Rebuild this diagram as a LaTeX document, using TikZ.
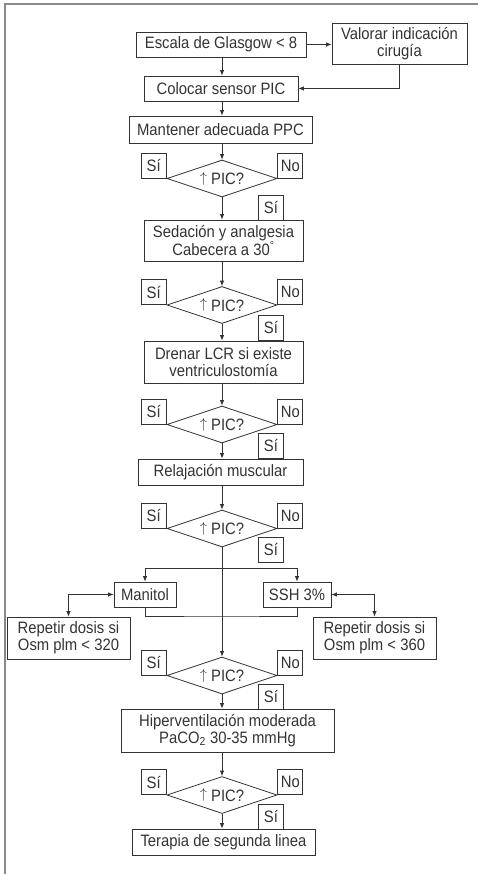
\documentclass[tikz,border=0pt]{standalone}
\usepackage{fontspec}
\setmainfont{Liberation Sans}[FakeStretch=0.9]
\usetikzlibrary{shapes.geometric,arrows.meta}
\definecolor{ink}{HTML}{333333}
\definecolor{frame}{HTML}{8A8A8A}
% thin rising arrow used in the decision labels
\newcommand{\picup}{\raisebox{2.6pt}{\fontsize{13.5}{13.5}\selectfont$\uparrow$}}

\begin{document}
\begin{tikzpicture}[x=1pt,y=-1pt,
  font=\fontsize{16.5}{16.8}\selectfont,
  box/.style={draw=ink, line width=0.8pt, rectangle, inner sep=0pt, align=center, text=ink},
  tag/.style={box, minimum width=25pt, minimum height=25pt},
  dia/.style={draw=ink, line width=0.8pt, shape=diamond, aspect=3, inner sep=0pt,
              minimum width=110pt, minimum height=37pt, text=ink},
  link/.style={draw=ink, line width=0.8pt},
  arr/.style={link, -{Latex[length=5.5pt,width=4.5pt]}},
  dbl/.style={link, {Latex[length=5.5pt,width=4.5pt]}-{Latex[length=5.5pt,width=4.5pt]}}]

\useasboundingbox (0,0) rectangle (478,874);
% figure frame (top and left rules)
\draw[frame, line width=1.5pt] (5,874) -- (5,4) -- (478,4);

% main axis of the flow
\coordinate (ax) at (222,0);

% boxes
\node[box, minimum width=170pt, minimum height=25pt] (glas) at (221,44.5) {Escala de Glasgow < 8};
\node[box, minimum width=135pt, minimum height=41pt] (val) at (399.5,43.5) {Valorar indicación\\cirugía};
\node[box, minimum width=154pt, minimum height=25pt] (col) at (221,88.5) {Colocar sensor PIC};
\node[box, minimum width=183pt, minimum height=27pt] (ppc) at (220.5,129.5) {Mantener adecuada PPC};
\node[dia] (d1) at (222,178.5) {\picup{} PIC?};
\node[box, minimum width=159pt, minimum height=41pt] (sed) at (223.5,240.5) {Sedación y analgesia\\Cabecera a 30\textsuperscript{°}};
\node[dia] (d2) at (222,305) {\picup{} PIC?};
\node[box, minimum width=159pt, minimum height=42pt] (lcr) at (223.5,362) {Drenar LCR si existe\\ventriculostomía};
\node[dia] (d3) at (222,424.5) {\picup{} PIC?};
\node[box, minimum width=165pt, minimum height=26pt] (rel) at (220.5,472) {Relajación muscular};
\node[dia] (d4) at (222,528.5) {\picup{} PIC?};
\node[box, minimum width=62pt, minimum height=25pt] (man) at (145,594.5) {Manitol};
\node[box, minimum width=68pt, minimum height=25pt] (ssh) at (297,594.5) {SSH 3\%};
\node[box, minimum width=123pt, minimum height=42pt] (repl) at (68.5,638) {Repetir dosis si\\Osm plm < 320};
\node[box, minimum width=123pt, minimum height=42pt] (repr) at (374.5,638) {Repetir dosis si\\Osm plm < 360};
\node[dia] (d5) at (222,675.5) {\picup{} PIC?};
\node[box, minimum width=213pt, minimum height=43pt] (hip) at (227.5,730.5) {Hiperventilación moderada\\PaCO\textsubscript{2} 30-35 mmHg};
\node[dia] (d6) at (222,795) {\picup{} PIC?};
\node[box, minimum width=183pt, minimum height=26pt] (ter) at (223.5,842) {Terapia de segunda linea};

% answer tags beside each decision
\foreach \d/\y in {d1/207.5, d2/327.5, d3/445.5, d4/549.5, d5/696.5, d6/816.5} {
  \node[tag, anchor=south east] (\d sl) at (\d.west) {Sí};
  \node[tag, anchor=south west] (\d no) at (\d.east) {No};
  \node[tag] (\d sb) at (271,\y) {Sí};
}

% connectors
\draw[arr] (glas.south -| ax) -- (col.north -| ax);
\draw[arr] (glas.east) -- (glas.east -| val.west);
\draw[arr] (val.south) |- (col.east);
\draw[arr] (col.south -| ax) -- (ppc.north -| ax);
\draw[arr] (ppc.south -| ax) -- (d1.north);
\draw[arr] (d1.south) -- (sed.north -| ax);
\draw[arr] (sed.south -| ax) -- (d2.north);
\draw[arr] (d2.south) -- (lcr.north -| ax);
\draw[arr] (lcr.south -| ax) -- (d3.north);
\draw[arr] (d3.south) -- (rel.north -| ax);
\draw[arr] (rel.south -| ax) -- (d4.north);
\draw[arr] (d4.south) -- (d5.north);

% osmotic therapy branch
\coordinate (br) at (222,568);
\coordinate (jn) at (222,616);
\draw[arr] (br) -| (man.north);
\draw[arr] (br) -| (ssh.north);
\draw[link] (man.south) |- (jn) -| (ssh.south);
\draw[dbl] (man.west) -| (repl.north);
\draw[dbl] (ssh.east) -| (repr.north);

\draw[arr] (d5.south) -- (hip.north -| ax);
\draw[arr] (hip.south -| ax) -- (d6.north);
\draw[arr] (d6.south) -- (ter.north -| ax);
\end{tikzpicture}
\end{document}
